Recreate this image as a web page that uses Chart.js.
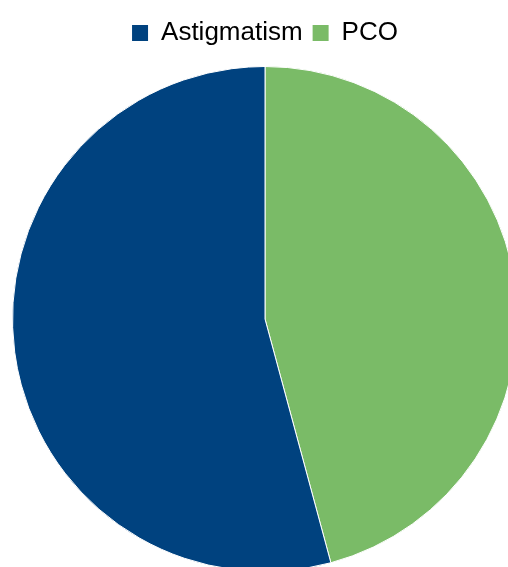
<!DOCTYPE html>
<html>
<head>
<meta charset="utf-8">
<script src="https://cdn.jsdelivr.net/npm/chart.js@4"></script>
<style>
  html, body { margin: 0; padding: 0; background: #fff; overflow: hidden; }
  #wrap { position: absolute; left: 12px; top: 0; width: 506px; height: 582px; }
</style>
</head>
<body>
<div id="wrap"><canvas id="pieChart"></canvas></div>
<script>
// slices in drawing order (clockwise from 12 o'clock)
const labels = ["PCO", "Astigmatism"];
const values = [45.8, 54.2];
const colors = ["#7abb67", "#00427f"];

const ctx = document.getElementById("pieChart").getContext("2d");
const pieChart = new Chart(ctx, {
  type: "pie",
  data: {
    labels: labels,
    datasets: [
      {
        data: values,
        backgroundColor: colors,
        borderColor: "#ffffff",
        borderWidth: 1,
      },
    ],
  },
  options: {
    responsive: true,
    maintainAspectRatio: false,
    animation: false,
    layout: { padding: { top: 10 } },
    plugins: {
      legend: {
        position: "top",
        reverse: true, // Astigmatism first in legend
        labels: {
          boxWidth: 16,
          boxHeight: 16,
          padding: 10,
          color: "#000",
          font: { family: "'Liberation Sans', Arial, sans-serif", size: 26 },
          generateLabels: function (chart) {
            const items = Chart.overrides.pie.plugins.legend.labels.generateLabels(chart);
            items.forEach((it) => (it.lineWidth = 0)); // no white edge on legend boxes
            return items;
          },
        },
      },
      tooltip: { enabled: false },
    },
  },
});
</script>
</body>
</html>
